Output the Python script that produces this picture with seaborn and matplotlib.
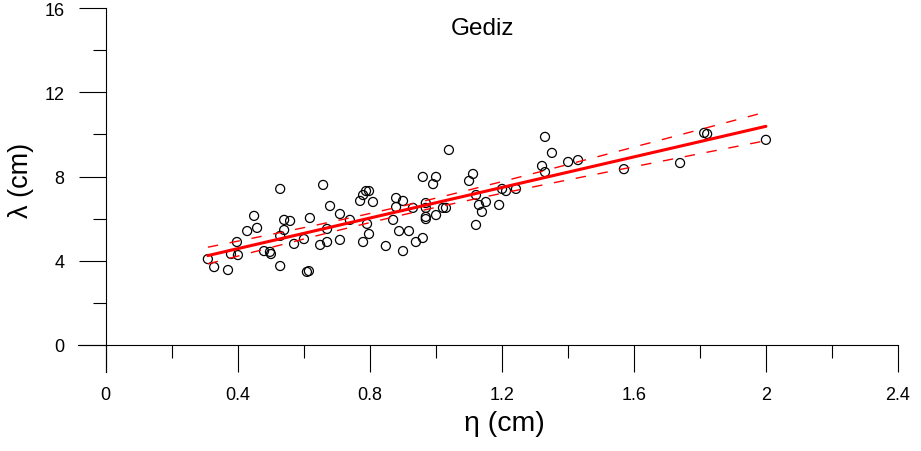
import numpy as np
import pandas as pd
import matplotlib
matplotlib.use("Agg")
import matplotlib.pyplot as plt
import seaborn as sns

# ---- data ----
eta = [0.310, 0.329, 0.371, 0.380, 0.398, 0.401, 0.429, 0.450, 0.459, 0.480,
       0.498, 0.501, 0.529, 0.529, 0.541, 0.541, 0.559, 0.571, 0.601, 0.610,
       0.616, 0.619, 0.529, 0.659, 0.650, 0.671, 0.680, 0.671, 0.710, 0.710,
       0.740, 0.792, 0.771, 0.780, 0.789, 0.798, 0.810, 0.798, 0.780, 0.849,
       0.871, 0.880, 0.889, 0.901, 0.880, 0.901, 0.919, 0.931, 0.940, 0.961,
       0.961, 0.992, 1.001, 0.970, 0.970, 0.970, 0.970, 1.001, 1.022, 1.031,
       1.040, 1.101, 1.113, 1.122, 1.131, 1.152, 1.140, 1.122, 1.192, 1.201,
       1.213, 1.243, 1.331, 1.352, 1.322, 1.331, 1.401, 1.431, 1.570, 1.740,
       1.813, 1.822, 2.000]
lam = [4.08, 3.70, 3.56, 4.32, 4.89, 4.27, 5.41, 6.13, 5.56, 4.46,
       4.42, 4.32, 3.75, 5.18, 5.46, 5.94, 5.89, 4.80, 5.03, 3.47,
       3.51, 6.03, 7.41, 7.60, 4.75, 4.89, 6.60, 5.51, 6.22, 4.99,
       5.94, 5.75, 6.84, 7.12, 7.31, 7.31, 6.79, 5.27, 4.89, 4.70,
       5.94, 6.98, 5.41, 6.84, 6.55, 4.46, 5.41, 6.51, 4.89, 5.08,
       7.98, 7.64, 7.98, 6.74, 6.51, 6.08, 5.98, 6.17, 6.51, 6.51,
       9.26, 7.79, 8.12, 7.12, 6.65, 6.79, 6.32, 5.70, 6.65, 7.41,
       7.31, 7.41, 9.88, 9.12, 8.50, 8.21, 8.69, 8.78, 8.35, 8.64,
       10.07, 10.02, 9.74]
x_ticks = [0, 0.4, 0.8, 1.2, 1.6, 2.0, 2.4]
x_tick_labels = ["0", "0.4", "0.8", "1.2", "1.6", "2", "2.4"]
y_ticks = [0, 4, 8, 12, 16]
y_tick_labels = ["0", "4", "8", "12", "16"]
title = "Gediz"
x_label = "η (cm)"
y_label = "λ (cm)"

df = pd.DataFrame({"eta": eta, "lam": lam})

# ---- regression with 95% confidence band of the mean ----
x = np.asarray(eta)
y = np.asarray(lam)
n = len(x)
b1, b0 = np.polyfit(x, y, 1)
resid = y - (b0 + b1 * x)
s = np.sqrt(np.sum(resid ** 2) / (n - 2))
sxx = np.sum((x - x.mean()) ** 2)
t975 = 1.990
xg = np.linspace(x.min(), x.max(), 200)
yg = b0 + b1 * xg
half = t975 * s * np.sqrt(1.0 / n + (xg - x.mean()) ** 2 / sxx)
band = pd.DataFrame({"x": xg, "lo": yg - half, "hi": yg + half})

# ---- figure ----
sns.set_style("white")
plt.rcParams["font.family"] = ["Liberation Sans", "DejaVu Sans"]
plt.rcParams["text.color"] = "black"
plt.rcParams["xtick.color"] = "black"
plt.rcParams["ytick.color"] = "black"

W, H = 921, 452
fig = plt.figure(figsize=(W / 100, H / 100), dpi=100)
x0, x1, y0, y1 = 105.5, 898.0, 346.0, 9.0
ax = fig.add_axes([x0 / W, (H - y0) / H, (x1 - x0) / W, (y0 - y1) / H])

sns.scatterplot(data=df, x="eta", y="lam", ax=ax, s=42, marker="o",
                facecolor="none", edgecolor="black", linewidth=0.9, zorder=3)
sns.regplot(data=df, x="eta", y="lam", ax=ax, scatter=False, ci=None,
            truncate=True, color="red", line_kws={"linewidth": 2.2, "zorder": 4})
for col in ["lo", "hi"]:
    sns.lineplot(data=band, x="x", y=col, ax=ax, color="red", linewidth=1.0,
                 dashes=False, zorder=4).lines[-1].set_dashes((7.5, 8.5))

ax.set_xlim(0, 2.4)
ax.set_ylim(0, 16)
ax.set_xticks(x_ticks)
ax.set_xticklabels(x_tick_labels)
ax.set_yticks(y_ticks)
ax.set_yticklabels(y_tick_labels)
ax.set_xticks([0.2, 0.6, 1.0, 1.4, 1.8, 2.2], minor=True)
ax.set_yticks([2, 6, 10, 14], minor=True)

major_len = 19.5
minor_len = 9.5
ax.tick_params(axis="both", which="both", bottom=True, left=True,
               top=False, right=False)
ax.tick_params(axis="both", which="major", direction="out", length=major_len,
               width=0.8, color="black", labelsize=13, labelcolor="black")
ax.tick_params(axis="both", which="minor", direction="out", length=minor_len,
               width=0.8, color="black")
ax.tick_params(axis="x", which="major", pad=10)
ax.tick_params(axis="y", which="major", pad=10)

for side in ["top", "right"]:
    ax.spines[side].set_visible(False)
for side in ["left", "bottom"]:
    ax.spines[side].set_linewidth(0.8)
    ax.spines[side].set_color("black")
ext_px = major_len / 0.72
ax.spines["left"].set_bounds(-ext_px / ((y0 - y1) / 16), 16)
ax.spines["bottom"].set_bounds(-ext_px / ((x1 - x0) / 2.4), 2.4)

ax.set_xlabel("")
ax.set_ylabel("")
fig.text(504 / W, 1 - 424 / H, x_label, fontsize=20.5, ha="center",
         va="center", color="black")
fig.text(21 / W, 1 - 180 / H, y_label, fontsize=19.5, ha="center",
         va="center", rotation=90, color="black")
fig.text(482 / W, 1 - 29 / H, title, fontsize=17.5, ha="center", va="center",
         color="black")

fig.savefig("out.png", dpi=100)
